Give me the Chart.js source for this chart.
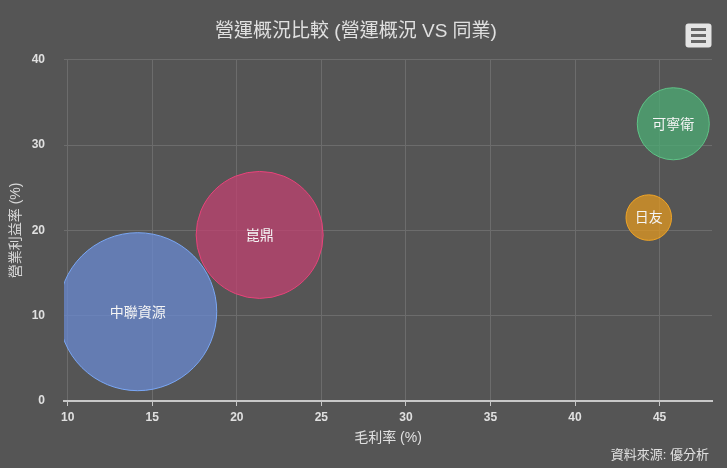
<!DOCTYPE html>
<html>
<head>
<meta charset="utf-8">
<script src="https://cdn.jsdelivr.net/npm/chart.js@4/dist/chart.umd.min.js"></script>
<style>
  html, body { margin: 0; padding: 0; background: #555555; }
  #wrap { width: 727px; height: 468px; position: relative; }
</style>
</head>
<body>
<div id="wrap"><canvas id="bubbleChart"></canvas></div>
<script>
// data
const companies = ['中聯資源', '崑鼎', '可寧衛', '日友'];
const grossMargin = [14.14, 21.35, 45.81, 44.36];      // 毛利率 (%)
const operatingMargin = [10.47, 19.47, 32.5, 21.5];    // 營業利益率 (%)
const bubbleSize = [100, 64.6, 20.8, 8.3];             // relative size (z)
const fills = ['rgba(105,137,209,0.75)', 'rgba(192,65,112,0.75)', 'rgba(76,172,116,0.75)', 'rgba(225,152,32,0.75)'];
const borders = ['#7aa7f5', '#e8437a', '#5fc487', '#f0a526'];

const CJK = '"Liberation Sans", "Noto Sans CJK TC", sans-serif';
const MAX_R = 79;
const maxZ = Math.max(...bubbleSize);

Chart.defaults.font.family = CJK;
Chart.defaults.color = '#e0e0e0';

// bubble labels
const bubbleLabels = {
  id: 'bubbleLabels',
  afterDatasetsDraw(chart) {
    const ctx = chart.ctx;
    ctx.save();
    ctx.font = '14px ' + CJK;
    ctx.fillStyle = '#f5f5f5';
    ctx.textAlign = 'center';
    ctx.textBaseline = 'middle';
    chart.data.datasets.forEach((ds, i) => {
      const pt = chart.getDatasetMeta(i).data[0];
      if (pt) ctx.fillText(ds.label, pt.x, pt.y + 1);
    });
    ctx.restore();
  }
};

// credits + menu button
const extras = {
  id: 'extras',
  afterDraw(chart) {
    const ctx = chart.ctx;
    ctx.save();
    ctx.font = '13px ' + CJK;
    ctx.fillStyle = '#e0e0e0';
    ctx.textAlign = 'right';
    ctx.textBaseline = 'middle';
    ctx.fillText('資料來源: 優分析', 709, 455);

    ctx.fillStyle = '#e4e4e4';
    ctx.beginPath();
    ctx.roundRect(685.5, 23.5, 26, 24, 3);
    ctx.fill();
    ctx.strokeStyle = '#666666';
    ctx.lineWidth = 3;
    [29.5, 35.5, 41.5].forEach(y => {
      ctx.beginPath();
      ctx.moveTo(691, y);
      ctx.lineTo(706, y);
      ctx.stroke();
    });
    ctx.restore();
  }
};

const ctx = document.getElementById('bubbleChart').getContext('2d');
new Chart(ctx, {
  type: 'bubble',
  data: {
    datasets: companies.map((name, i) => ({
      label: name,
      data: [{ x: grossMargin[i], y: operatingMargin[i], z: bubbleSize[i] }],
      backgroundColor: fills[i],
      borderColor: borders[i],
      borderWidth: 1,
      radius: c => MAX_R * Math.sqrt(c.raw.z / maxZ)
    }))
  },
  options: {
    responsive: true,
    maintainAspectRatio: false,
    animation: false,
    layout: { autoPadding: false, padding: { left: 0, right: 15, top: 0, bottom: 0 } },
    plugins: {
      legend: { display: false },
      tooltip: { enabled: false },
      title: {
        display: true,
        text: '營運概況比較 (營運概況 VS 同業)',
        color: '#e0e0e0',
        font: { size: 19, weight: 'normal' },
        padding: { top: 20, bottom: 17 }
      }
    },
    scales: {
      x: {
        type: 'linear',
        min: 9.78,
        max: 48.1,
        afterFit: a => { a.height = 67; },
        ticks: { stepSize: 5, includeBounds: false, padding: 4, color: '#e0e0e0', font: { size: 12, weight: 'bold' } },
        grid: { color: '#6c6c6c', tickColor: '#c8c8c8', tickLength: 5 },
        border: { color: '#c8c8c8', width: 2 },
        title: { display: true, text: '毛利率 (%)', color: '#e0e0e0', font: { size: 14 }, padding: { top: 4, bottom: 21 } }
      },
      y: {
        min: 0,
        max: 40,
        afterFit: a => { a.width = 64; },
        ticks: { stepSize: 10, padding: 19, color: '#e0e0e0', font: { size: 12, weight: 'bold' } },
        grid: { color: '#6c6c6c', drawTicks: false },
        border: { display: false },
        title: { display: true, text: '營業利益率 (%)', color: '#d8d8d8', font: { size: 14 }, padding: { top: 8, bottom: 0 } }
      }
    }
  },
  plugins: [bubbleLabels, extras]
});
</script>
</body>
</html>
